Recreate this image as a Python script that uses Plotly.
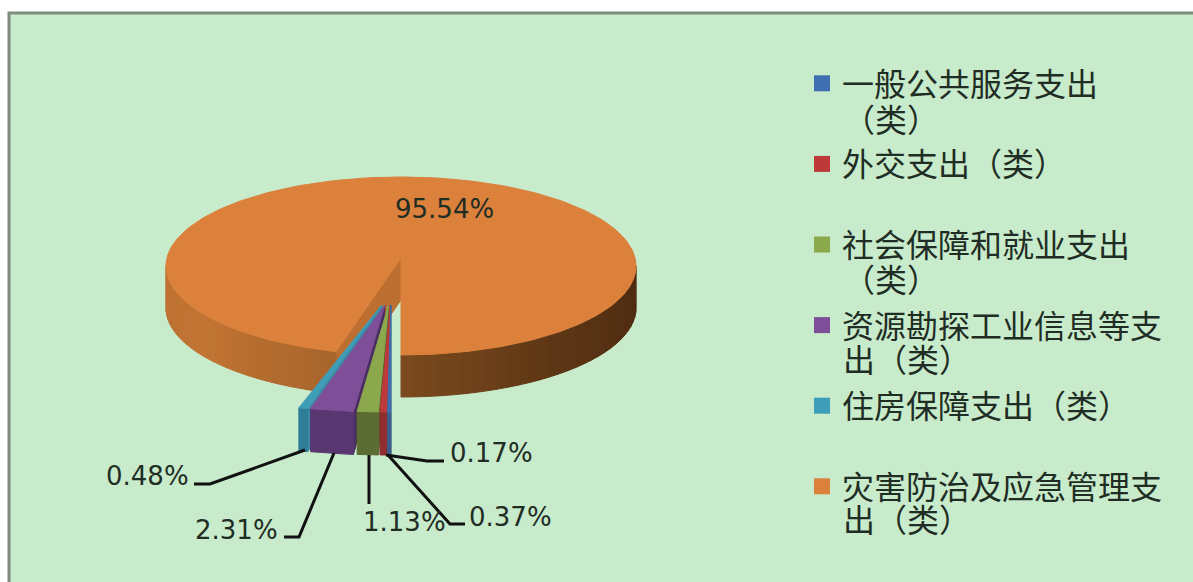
import math
import plotly.graph_objects as go

categories = ["一般公共服务支出（类）", "外交支出（类）", "社会保障和就业支出（类）",
              "资源勘探工业信息等支出（类）", "住房保障支出（类）", "灾害防治及应急管理支出（类）"]
legend_first = ["一般公共服务支出", "外交支出（类）", "社会保障和就业支出",
                "资源勘探工业信息等支", "住房保障支出（类）", "灾害防治及应急管理支"]
legend_second = ["（类）", "", "（类）", "出（类）", "", "出（类）"]
values = [0.17, 0.37, 1.13, 2.31, 0.48, 95.54]
labels = ["0.17%", "0.37%", "1.13%", "2.31%", "0.48%", "95.54%"]
colors = ["#3F6FB0", "#BE3A3A", "#8CA84C", "#7E4F98", "#3E9DB8", "#DB813C"]
front_colors = ["#3A5F8E", "#8E2E2E", "#5C6D33", "#583770", "#2F7D96", "#8A5020"]
wall_colors = ["#33547E", "#7A2828", "#4E5E2C", "#4A2E60", "#3A8CA6", "#8A5020"]

FW, FH = 1193, 582
CX, CY, RX, RY, DEPTH = 401, 266, 235, 89, 42
ECX, ECY, ESPREAD, ERX, ERY, EDEPTH = 391, 305, 35, 300, 107, 43


def arc(cx, cy, rx, ry, a0, a1, n=60):
    pts = []
    for i in range(n + 1):
        t = math.radians(a0 + (a1 - a0) * i / n)
        pts.append((cx - rx * math.sin(t), cy + ry * math.cos(t)))
    return pts


def poly(pts, color):
    xs = [p[0] for p in pts] + [pts[0][0]]
    ys = [p[1] for p in pts] + [pts[0][1]]
    return go.Scatter(x=xs, y=ys, mode="lines", fill="toself", fillcolor=color,
                      line=dict(color=color, width=1), hoverinfo="skip", showlegend=False)


def lerp(stops, f):
    f = f * (len(stops) - 1)
    i = min(int(f), len(stops) - 2)
    a = [int(stops[i][j:j + 2], 16) for j in (1, 3, 5)]
    b = [int(stops[i + 1][j:j + 2], 16) for j in (1, 3, 5)]
    return "#%02x%02x%02x" % tuple(round(a[k] + (b[k] - a[k]) * (f - i)) for k in range(3))


fig = go.Figure()

# angles of the slices, running clockwise from straight down
edges = [0.0]
for v in values:
    edges.append(edges[-1] + v / sum(values) * 360)

# large slice: inner cut wall
a0, a1 = edges[5], edges[6]
apex = (CX, CY - 8)
start = arc(CX, CY, RX, RY, a0, a0, 1)[0]
fig.add_trace(poly([apex, start, (start[0], start[1] + DEPTH), (apex[0], apex[1] + DEPTH)], "#BC6F30"))

# large slice: outer wall as shaded strips, left and right of the front
STEPS = 30
for i in range(STEPS):
    b0 = a0 + (90 - a0) * i / STEPS
    b1 = a0 + (90 - a0) * (i + 1) / STEPS
    top = arc(CX, CY, RX, RY, b0, b1, 3)
    bot = [(x, y + DEPTH) for x, y in reversed(top)]
    fig.add_trace(poly(top + bot, lerp(["#A8652B", "#C07433", "#BF7233"], i / (STEPS - 1))))
for i in range(STEPS):
    b0 = a1 + (270 - a1) * i / STEPS
    b1 = a1 + (270 - a1) * (i + 1) / STEPS
    top = arc(CX, CY, RX, RY, b0, b1, 3)
    bot = [(x, y + DEPTH) for x, y in reversed(top)]
    fig.add_trace(poly(top + bot, lerp(["#7A4A1E", "#5A3414", "#4E2A10"], i / (STEPS - 1))))

# large slice: top
fig.add_trace(poly([apex] + arc(CX, CY, RX, RY, a0, a1, 240), colors[5]))

# small slices, pulled out of the pie
for k in [4, 3, 2, 1, 0]:
    mid = (edges[k] + edges[k + 1]) / 2
    ax = ECX - ESPREAD * math.sin(math.radians(mid))
    rim = arc(ax, ECY, ERX, ERY, edges[k], edges[k + 1], 12)
    low = [(x, y + EDEPTH) for x, y in reversed(rim)]
    fig.add_trace(poly([(ax, ECY), rim[0], low[-1], (ax, ECY + EDEPTH)], wall_colors[k]))
    fig.add_trace(poly(rim + low, front_colors[k]))
    fig.add_trace(poly([(ax, ECY)] + rim, colors[k]))

# legend entries: one group each, so the gap sets the row pitch
for name, c in zip(legend_first, colors):
    fig.add_trace(go.Scatter(x=[None], y=[None], mode="markers", name=name, legendgroup=name,
                             marker=dict(symbol="square", size=17, color=c)))

TEXT = "#1F2D24"
label_pos = [(491, 453), (510, 517), (404, 522), (236, 530), (147, 476), (444, 209)]
annotations = [dict(x=x, y=y, text=t, showarrow=False, xref="x", yref="y",
                    font=dict(family="DejaVu Sans", size=26, color=TEXT))
               for t, (x, y) in zip(labels, label_pos)]
LEG_X, LEG_Y0, LEG_PITCH, LEG_LINE = 843, 85, 80, 33
for i, t in enumerate(legend_second):
    if t:
        annotations.append(dict(x=LEG_X, y=LEG_Y0 + i * LEG_PITCH + LEG_LINE, text=t, showarrow=False,
                                xref="x", yref="y", xanchor="left", xshift=-2,
                                font=dict(family="Noto Sans CJK SC", size=32, color=TEXT)))

leaders = ["M444,461 L427,461 L386,455", "M465,524 L450,524 L388,455", "M369,504 L369,455",
           "M284,537 L299,537 L334,453", "M194,484 L210,484 L305,450"]
shapes = [dict(type="rect", x0=9, y0=13, x1=1210, y1=600, layer="below",
               fillcolor="#C7EBCB", line=dict(color="#7F8C80", width=3))]
shapes += [dict(type="path", path=p, line=dict(color="#111111", width=3)) for p in leaders]

fig.update_layout(
    width=FW, height=FH, margin=dict(l=0, r=0, t=0, b=0), paper_bgcolor="#FFFFFF",
    plot_bgcolor="rgba(0,0,0,0)",
    xaxis=dict(range=[0, FW], visible=False, fixedrange=True),
    yaxis=dict(range=[FH, 0], visible=False, fixedrange=True),
    shapes=shapes, annotations=annotations,
    legend=dict(x=802 / FW, y=1 - 56 / FH, xanchor="left", yanchor="top", bgcolor="rgba(0,0,0,0)",
                traceorder="grouped", tracegroupgap=36, itemwidth=30,
                font=dict(family="Noto Sans CJK SC", size=32, color=TEXT)),
)
fig.write_html("out.html", config=dict(displayModeBar=False),
               post_script="document.body.style.margin='0';document.documentElement.style.overflow='hidden';")
